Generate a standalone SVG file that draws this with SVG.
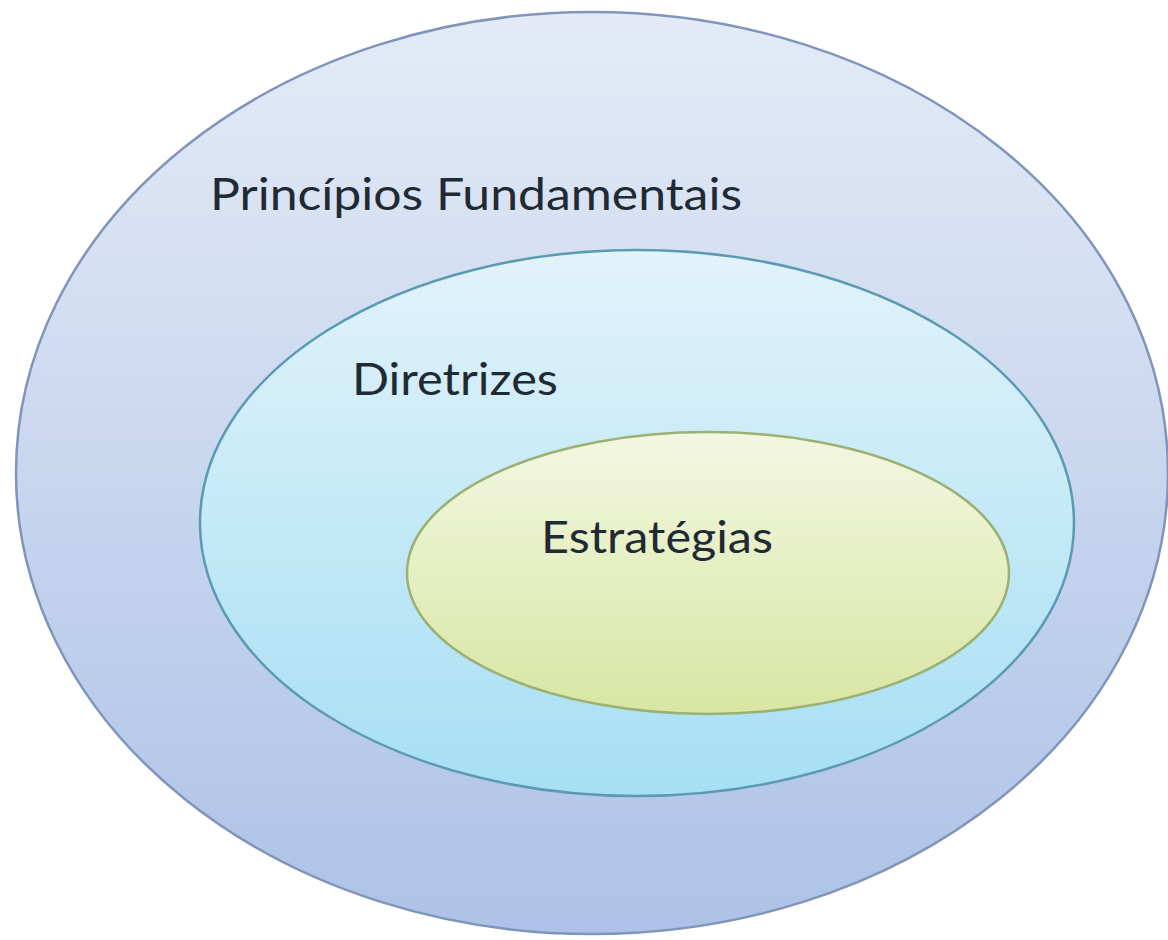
<svg xmlns="http://www.w3.org/2000/svg" width="1168" height="940" viewBox="0 0 1168 940">
<defs>
<linearGradient id="gOuter" x1="0" y1="0" x2="0" y2="1"><stop offset="0" stop-color="#e4ebf7"/><stop offset="1" stop-color="#adc2e6"/></linearGradient>
<linearGradient id="gMid" x1="0" y1="0" x2="0" y2="1"><stop offset="0" stop-color="#e2f3fb"/><stop offset="1" stop-color="#a6dff3"/></linearGradient>
<linearGradient id="gIn" x1="0" y1="0" x2="0" y2="1"><stop offset="0" stop-color="#f3f7e2"/><stop offset="1" stop-color="#d8e6a3"/></linearGradient>
<style>
text{font-family:Lato,"Open Sans","Liberation Sans",sans-serif;fill:#1f2a33;font-size:44px}
</style>
</defs>
<rect width="1168" height="940" fill="#ffffff"/>
<g id="principios">
<ellipse cx="592" cy="473" rx="576" ry="461" fill="url(#gOuter)" stroke="#8095bb" stroke-width="2.5"/>
<text x="210" y="210" textLength="532" lengthAdjust="spacingAndGlyphs">Princípios Fundamentais</text>
</g>
<g id="diretrizes">
<ellipse cx="637" cy="523" rx="437" ry="273" fill="url(#gMid)" stroke="#5b9bb2" stroke-width="2.5"/>
<text x="352" y="395" textLength="206" lengthAdjust="spacingAndGlyphs">Diretrizes</text>
</g>
<g id="estrategias">
<ellipse cx="708" cy="573" rx="301" ry="141" fill="url(#gIn)" stroke="#9bb173" stroke-width="2.5"/>
<text x="541" y="553" textLength="232" lengthAdjust="spacingAndGlyphs">Estratégias</text>
</g>
<g id="connectors"/>
</svg>
